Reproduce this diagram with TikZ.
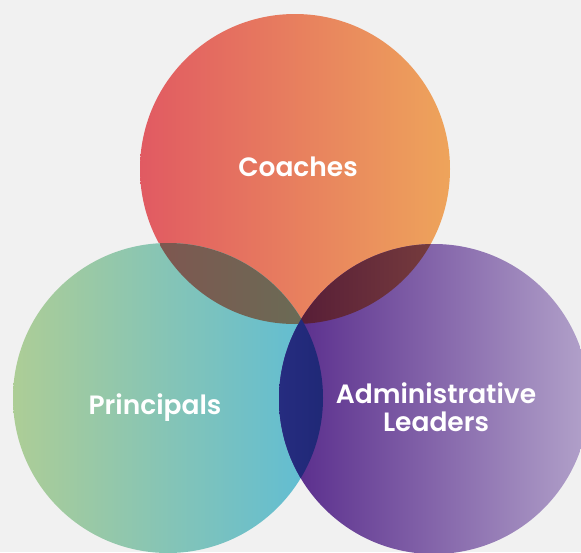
\documentclass[tikz,border=0pt]{standalone}
\usepackage{fontspec}
\setmainfont{Poppins}[BoldFont={Poppins SemiBold}]
\usepackage{tikz}

\definecolor{bggray}{HTML}{F1F1F1}
\definecolor{coachl}{HTML}{E15A62}
\definecolor{coachr}{HTML}{EEA45B}
\definecolor{princl}{HTML}{ADCD96}
\definecolor{princr}{HTML}{5DBCD6}
\definecolor{adminl}{HTML}{56288A}
\definecolor{adminr}{HTML}{B2A2CA}
\definecolor{cpl}{HTML}{7E5750}
\definecolor{cpr}{HTML}{6A6B55}
\definecolor{cal}{HTML}{581E37}
\definecolor{car}{HTML}{753B3D}
\definecolor{pal}{HTML}{262C80}
\definecolor{par}{HTML}{1F2876}

\tikzset{
  venn/.style={circle, minimum size=310pt, inner sep=0pt},
  label/.style={text=white, align=center, font=\bfseries\fontsize{26.5}{28}\selectfont}
}

\begin{document}
\begin{tikzpicture}[x=1pt,y=-1pt]
\fill [bggray] (0,0) rectangle (581,552);
\useasboundingbox (0,0) rectangle (581,552);
\clip (0,0) rectangle (581,552);
\node [venn, left color=coachl, right color=coachr] (coaches) at (295,169) {};
\node [venn, left color=princl, right color=princr] (principals) at (168,398) {};
\node [venn, left color=adminl, right color=adminr] (admins) at (434,399) {};
% overlaps
\begin{scope}
\clip (coaches.center) circle (155);
\clip (principals.center) circle (155);
\shade [left color=cpl, right color=cpr] (160,240) rectangle (303,330);
\end{scope}
\begin{scope}
\clip (coaches.center) circle (155);
\clip (admins.center) circle (155);
\shade [left color=cal, right color=car] (301,240) rectangle (431,330);
\end{scope}
\begin{scope}
\clip (principals.center) circle (155);
\clip (admins.center) circle (155);
\shade [left color=pal, right color=par] (278,300) rectangle (325,552);
\end{scope}
\node [label] (coachtext) at (298,167) {Coaches};
\node [label] (principaltext) at (155,408) {Principals};
\node [label] (admintext) at (436,407) {Administrative\\Leaders};
\end{tikzpicture}
\end{document}
